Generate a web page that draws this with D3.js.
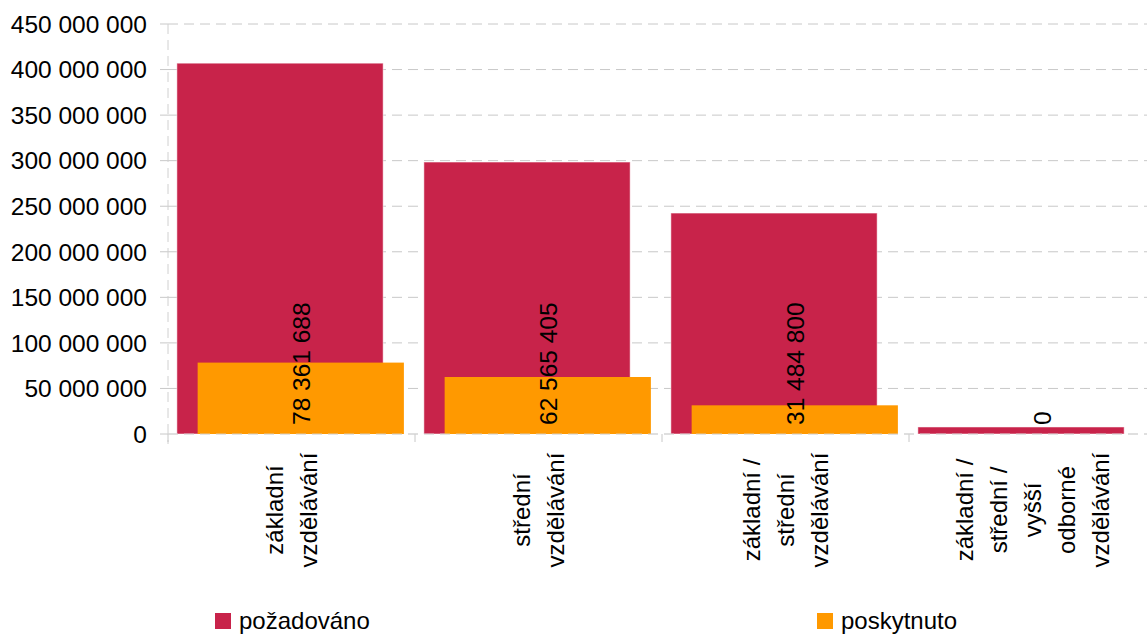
<!DOCTYPE html>
<html>
<head>
<meta charset="utf-8">
<script src="https://cdn.jsdelivr.net/npm/d3@7"></script>
<style>
  body { margin: 0; background: #fff; }
  text { font-family: "Liberation Sans", Arial, sans-serif; fill: #000; }
</style>
</head>
<body>
<div id="chart"></div>
<script>
// data
var categories = [
  ["základní", "vzdělávání"],
  ["střední", "vzdělávání"],
  ["základní /", "střední", "vzdělávání"],
  ["základní /", "střední /", "vyšší", "odborné", "vzdělávání"]
];
var pozadovano = [407000000, 298500000, 242500000, 7700000];
var poskytnuto = [78361688, 62565405, 31484800, 0];
var yTicks = [0, 50000000, 100000000, 150000000, 200000000, 250000000, 300000000, 350000000, 400000000, 450000000];
var seriesNames = ["požadováno", "poskytnuto"];
var seriesColors = ["#c8234a", "#ff9900"];

function main() {
  var width = 1147, height = 635;
  var left = 168, right = 1156, top = 24, bottom = 434;

  var svg = d3.select("#chart")
    .append("svg")
      .attr("width", width)
      .attr("height", height);

  var idx = categories.map(function(d, i) { return i; });

  var x = d3.scaleBand()
    .domain(idx)
    .range([left, right])
    .padding(0);

  var y = d3.scaleLinear()
    .domain([0, 450000000])
    .range([bottom, top]);

  var fmt = d3.formatLocale({decimal: ",", thousands: " ", grouping: [3], currency: ["", ""]}).format(",");

  var bw = x.bandwidth();
  var barW = bw * 0.835;
  var redOff = bw * 0.036, orOff = bw * 0.12;

  // gridlines
  svg.selectAll(".grid")
    .data(yTicks)
    .enter()
    .append("line")
      .attr("x1", left)
      .attr("x2", width)
      .attr("y1", function(d) { return y(d); })
      .attr("y2", function(d) { return y(d); })
      .style("stroke", "#c8c8c8")
      .style("stroke-width", 1)
      .style("stroke-dasharray", "10,6");

  // little ticks left of the axis
  svg.selectAll(".ytick")
    .data(yTicks)
    .enter()
    .append("line")
      .attr("x1", left - 8)
      .attr("x2", left)
      .attr("y1", function(d) { return y(d); })
      .attr("y2", function(d) { return y(d); })
      .style("stroke", "#c8c8c8");

  // vertical axis (dashed)
  svg.append("line")
    .attr("x1", left).attr("x2", left)
    .attr("y1", top).attr("y2", bottom + 10)
    .style("stroke", "#d0d0d0")
    .style("stroke-dasharray", "10,6");

  // category separator ticks
  svg.selectAll(".xtick")
    .data(idx.concat([idx.length]))
    .enter()
    .append("line")
      .attr("x1", function(d) { return left + d * bw; })
      .attr("x2", function(d) { return left + d * bw; })
      .attr("y1", bottom)
      .attr("y2", bottom + 8)
      .style("stroke", "#c8c8c8");

  // y labels
  svg.selectAll(".ylab")
    .data(yTicks)
    .enter()
    .append("text")
      .attr("x", 147)
      .attr("y", function(d) { return y(d); })
      .attr("dy", "0.36em")
      .attr("text-anchor", "end")
      .attr("font-size", "24.5px")
      .text(function(d) { return fmt(d); });

  // pozadovano bars
  svg.selectAll(".red")
    .data(pozadovano)
    .enter()
    .append("rect")
      .attr("x", function(d, i) { return x(i) + redOff; })
      .attr("y", function(d) { return y(d); })
      .attr("width", barW)
      .attr("height", function(d) { return bottom - y(d); })
      .style("fill", seriesColors[0])
      .style("stroke", "rgba(255,255,255,0.5)")
      .style("stroke-width", 1);

  // poskytnuto bars
  svg.selectAll(".orange")
    .data(poskytnuto)
    .enter()
    .append("rect")
      .attr("x", function(d, i) { return x(i) + orOff; })
      .attr("y", function(d) { return y(d); })
      .attr("width", barW)
      .attr("height", function(d) { return bottom - y(d); })
      .style("fill", seriesColors[1]);

  // zero line drawn over the bars
  svg.append("line")
    .attr("x1", left).attr("x2", width)
    .attr("y1", y(0)).attr("y2", y(0))
    .style("stroke", "#d8d8d8")
    .style("stroke-opacity", 0.8)
    .style("stroke-dasharray", "10,6");

  // value labels, rotated
  svg.selectAll(".val")
    .data(poskytnuto)
    .enter()
    .append("text")
      .attr("transform", function(d, i) {
        return "translate(" + (x(i) + orOff + barW / 2) + "," + (bottom - 9) + ") rotate(-90)";
      })
      .attr("dy", "0.36em")
      .attr("text-anchor", "start")
      .attr("font-size", "24.5px")
      .text(function(d) { return fmt(d); });

  // category labels, rotated multi-line
  var cat = svg.selectAll(".cat")
    .data(categories)
    .enter()
    .append("text")
      .attr("transform", function(d, i) {
        return "translate(" + (x(i) + bw / 2) + ",510) rotate(-90)";
      })
      .attr("text-anchor", "middle")
      .attr("font-size", "24px");

  cat.selectAll("tspan")
    .data(function(d) { return d.map(function(s, j) { return {s: s, j: j, n: d.length}; }); })
    .enter()
    .append("tspan")
      .attr("x", 0)
      .attr("y", function(d) { return (d.j - (d.n - 1) / 2) * 34; })
      .attr("dy", "0.36em")
      .text(function(d) { return d.s; });

  // legend
  var legX = [215, 817];
  var leg = svg.selectAll(".leg")
    .data(seriesNames)
    .enter()
    .append("g")
      .attr("transform", function(d, i) { return "translate(" + legX[i] + ",613)"; });

  leg.append("rect")
    .attr("width", 16)
    .attr("height", 16)
    .style("fill", function(d, i) { return seriesColors[i]; });

  leg.append("text")
    .attr("x", 24)
    .attr("y", 16)
    .attr("font-size", "24px")
    .text(function(d) { return d; });
}
main();
</script>
</body>
</html>
